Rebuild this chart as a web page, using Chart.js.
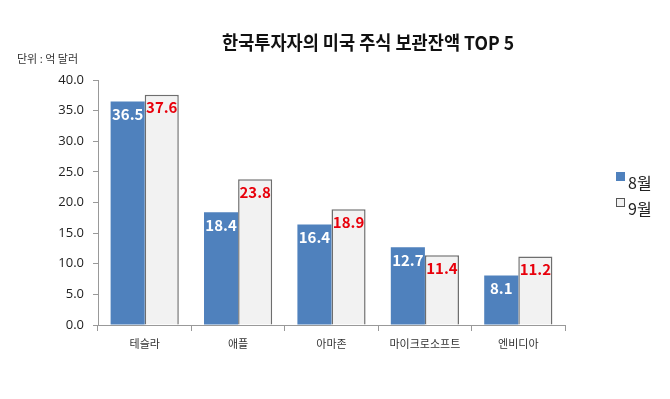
<!DOCTYPE html>
<html lang="ko">
<head>
    <meta charset="UTF-8">
    <title>한국투자자의 미국 주식 보관잔액 TOP 5</title>
    <style>
        html, body { margin: 0; padding: 0; background: #fff; }
        #wrap { position: relative; width: 670px; height: 399px; }
    </style>
</head>
<body>
    <div id="wrap"><canvas id="chart" width="670" height="399"></canvas></div>

    <script src="https://cdn.jsdelivr.net/npm/chart.js"></script>
    <script>
        // 데이터
        const categories = ["테슬라", "애플", "아마존", "마이크로소프트", "엔비디아"];
        const aug = [36.5, 18.4, 16.4, 12.7, 8.1];
        const sep = [37.6, 23.8, 18.9, 11.4, 11.2];
        const seriesNames = ["8월", "9월"];
        const chartTitle = "한국투자자의 미국 주식 보관잔액 TOP 5";
        const unitLabel = "단위 : 억 달러";

        const FONT = "'Noto Sans CJK KR', 'Noto Sans', sans-serif";
        const blue = "#4f81bd";
        const light = "#f2f2f2";

        // 막대 위 값 표시 + 제목 + 범례 그리기
        const extras = {
            id: "extras",
            afterDatasetsDraw(chart) {
                const ctx = chart.ctx;
                ctx.save();
                ctx.textAlign = "center";
                ctx.textBaseline = "middle";
                ctx.font = "bold 15px " + FONT;
                chart.data.datasets.forEach((ds, i) => {
                    const meta = chart.getDatasetMeta(i);
                    meta.data.forEach((bar, j) => {
                        ctx.fillStyle = i === 0 ? "#ffffff" : "#e8000b";
                        ctx.fillText(ds.data[j].toFixed(1), bar.x, bar.y + 13);
                    });
                });
                ctx.restore();
            },
            afterDraw(chart) {
                const ctx = chart.ctx;
                ctx.save();
                // 제목
                ctx.fillStyle = "#111";
                ctx.font = "bold 19px " + FONT;
                ctx.textAlign = "center";
                ctx.textBaseline = "middle";
                ctx.fillText(chartTitle, 368, 43, 292);
                // 단위
                ctx.font = "11px " + FONT;
                ctx.fillStyle = "#333";
                ctx.textAlign = "left";
                ctx.fillText(unitLabel, 17, 59);
                // 범례
                const items = [
                    { y: 177, fill: blue, stroke: blue },
                    { y: 203, fill: light, stroke: "#555" }
                ];
                ctx.font = "16px " + FONT;
                items.forEach((it, i) => {
                    ctx.fillStyle = it.fill;
                    ctx.fillRect(616.5, it.y - 4.5, 8, 8);
                    ctx.strokeStyle = it.stroke;
                    ctx.lineWidth = 1;
                    ctx.strokeRect(616.5, it.y - 4.5, 8, 8);
                    ctx.fillStyle = "#222";
                    ctx.fillText(seriesNames[i], 628, it.y + 6);
                });
                ctx.restore();
            }
        };

        new Chart(document.getElementById("chart"), {
            type: "bar",
            data: {
                labels: categories,
                datasets: [
                    {
                        label: seriesNames[0],
                        data: aug,
                        backgroundColor: blue,
                        borderWidth: 0
                    },
                    {
                        label: seriesNames[1],
                        data: sep,
                        backgroundColor: light,
                        borderColor: "#6e6e6e",
                        borderWidth: 1.5
                    }
                ]
            },
            options: {
                responsive: false,
                animation: false,
                layout: { padding: { top: 80, right: 105, bottom: 0, left: 0 } },
                plugins: {
                    legend: { display: false },
                    tooltip: { enabled: false }
                },
                datasets: {
                    bar: { categoryPercentage: 0.73, barPercentage: 1.0 }
                },
                scales: {
                    x: {
                        grid: { drawOnChartArea: false, drawTicks: true, tickLength: 6, color: "#999" },
                        border: { display: true, color: "#999" },
                        ticks: { font: { family: FONT, size: 11 }, color: "#333", padding: 6, maxRotation: 0 },
                        afterFit(scale) { scale.height = 74; }
                    },
                    y: {
                        min: 0,
                        max: 40,
                        grid: { drawOnChartArea: false, drawTicks: true, tickLength: 5, color: "#999" },
                        border: { display: true, color: "#999" },
                        ticks: {
                            stepSize: 5,
                            font: { family: "'Open Sans', sans-serif", size: 13 },
                            color: "#222",
                            padding: 9,
                            callback: v => v.toFixed(1)
                        },
                        afterFit(scale) { scale.width = 98; }
                    }
                }
            },
            plugins: [extras]
        });
    </script>
</body>
</html>
